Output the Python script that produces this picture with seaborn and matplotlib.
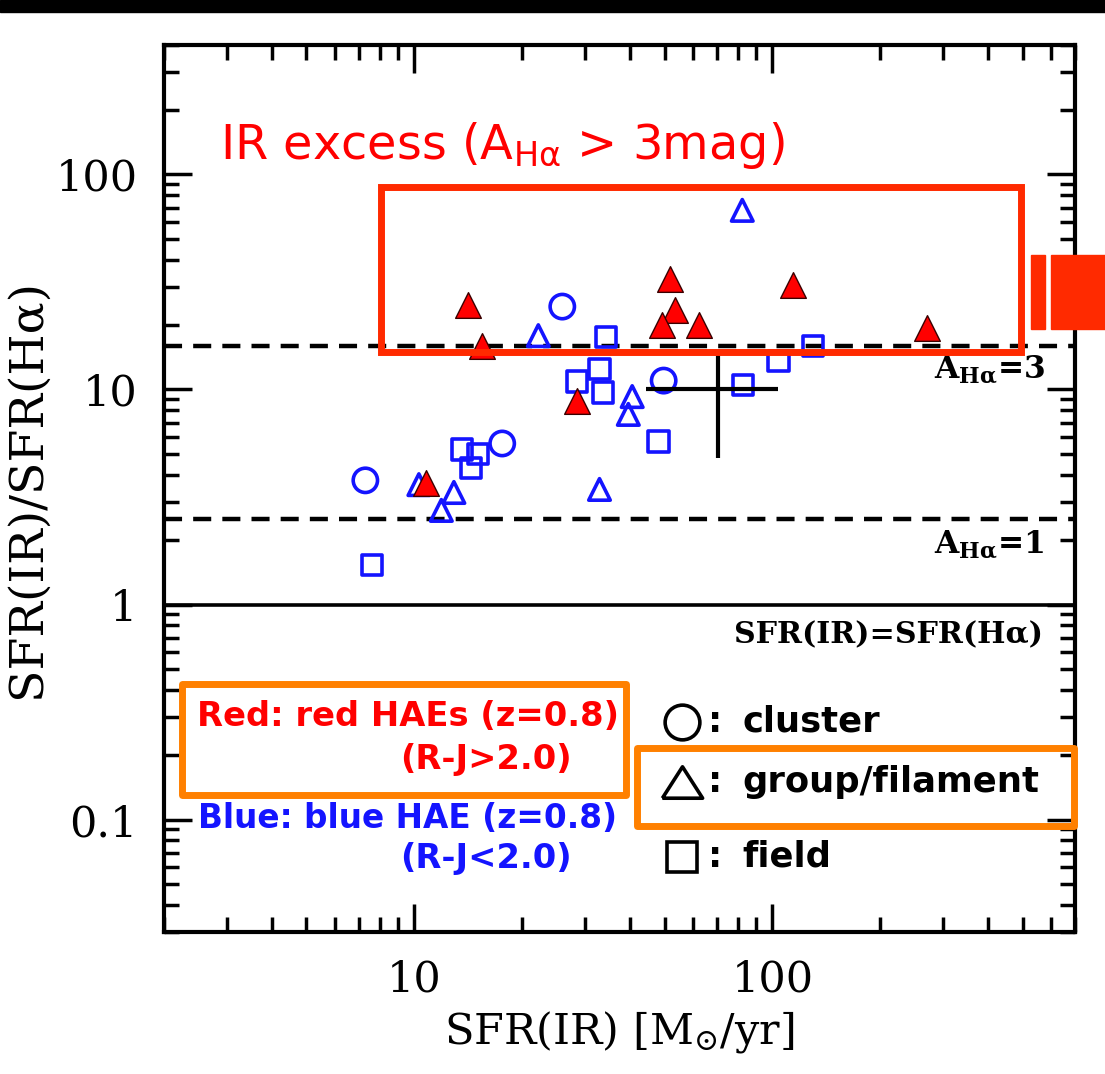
import matplotlib
matplotlib.use("Agg")
import matplotlib.pyplot as plt
import seaborn as sns
import pandas as pd
from matplotlib.patches import Rectangle
from matplotlib.ticker import LogLocator, FuncFormatter, NullFormatter

# ---- data: SFR(IR) [Msun/yr] and SFR(IR)/SFR(Halpha) ----
# red HAEs (R-J > 2.0), all in groups/filaments
red_tri_sfr = [14.1, 15.5, 28.5, 10.8, 51.9, 53.6, 49.3, 62.5, 114.5, 271.0]
red_tri_ratio = [24.6, 16.0, 8.8, 3.69, 32.5, 23.5, 19.9, 20.0, 30.5, 19.4]

# blue HAEs (R-J < 2.0)
blue_cluster_sfr = [25.9, 49.7, 17.6, 7.30]
blue_cluster_ratio = [24.3, 11.0, 5.61, 3.78]

blue_group_sfr = [82.4, 22.2, 40.6, 39.6, 10.3, 12.9, 11.9, 32.9]
blue_group_ratio = [68.1, 17.8, 9.27, 7.66, 3.61, 3.32, 2.74, 3.43]

blue_field_sfr = [34.3, 28.4, 32.9, 33.7, 48.1, 83.0, 104.0, 130.0, 13.6, 15.1, 14.4, 7.64]
blue_field_ratio = [17.5, 10.9, 12.5, 9.68, 5.73, 10.5, 13.6, 15.9, 5.26, 4.99, 4.30, 1.52]

# typical uncertainty (cross)
err_sfr = 70.6
err_ratio = 10.1
err_sfr_lo, err_sfr_hi = 26.1, 33.4
err_ratio_lo, err_ratio_hi = 5.3, 4.3

# extinction reference levels A(Halpha) in mag
a_levels = [1, 3]

x_limits = (2, 700)
y_limits = (0.03, 400)

sns.set_style("ticks")
plt.rcParams.update({
    "font.family": ["DejaVu Serif"],
    "mathtext.fontset": "dejavuserif",
    "lines.scale_dashes": False,
    "axes.linewidth": 3.0,
    "axes.edgecolor": "black",
    "axes.labelcolor": "black",
    "text.color": "black",
    "xtick.color": "black",
    "ytick.color": "black",
})

RED = "#ff0000"
BLUE = "#1414ff"
BOX_RED = "#ff2a00"
ORANGE = "#ff8000"

fig = plt.figure(figsize=(11.05, 10.74), dpi=100)
ax = fig.add_axes([164 / 1105, 142 / 1074, 911 / 1105, 887 / 1074])
ax.set_xscale("log")
ax.set_yscale("log")

# reference lines
ax.axhline(1.0, color="k", lw=2.6, zorder=2)
for a in a_levels:
    ax.axhline(10 ** (0.4 * a), color="k", lw=3.2, dashes=(13, 8), zorder=2)

# blue (open) symbols by environment
blue_sets = [
    (blue_cluster_sfr, blue_cluster_ratio, "o", 17.5),
    (blue_group_sfr, blue_group_ratio, "^", 15.5),
    (blue_field_sfr, blue_field_ratio, "s", 14.5),
]
for xs, ys, mk, ms in blue_sets:
    df = pd.DataFrame({"sfr_ir": xs, "ratio": ys})
    sns.scatterplot(data=df, x="sfr_ir", y="ratio", marker=mk, s=ms ** 2,
                    color=BLUE, facecolor="none", edgecolor=BLUE,
                    linewidth=2.6, ax=ax, zorder=3, legend=False)

# red (filled) triangles
df_red = pd.DataFrame({"sfr_ir": red_tri_sfr, "ratio": red_tri_ratio})
sns.scatterplot(data=df_red, x="sfr_ir", y="ratio", marker="^", s=18.5 ** 2,
                color=RED, edgecolor="#3a0000", linewidth=1.0, ax=ax,
                zorder=4, legend=False)

# typical error cross
ax.errorbar([err_sfr], [err_ratio],
            xerr=[[err_sfr_lo], [err_sfr_hi]],
            yerr=[[err_ratio_lo], [err_ratio_hi]],
            fmt="none", ecolor="k", elinewidth=3.0, capsize=0, zorder=3)

ax.set_xlim(*x_limits)
ax.set_ylim(*y_limits)

fmt = FuncFormatter(lambda v, _: f"{v:g}")
for axis in (ax.xaxis, ax.yaxis):
    axis.set_major_locator(LogLocator(base=10))
    axis.set_major_formatter(fmt)
    axis.set_minor_locator(LogLocator(base=10, subs=range(2, 10)))
    axis.set_minor_formatter(NullFormatter())

ax.tick_params(which="both", direction="in", top=True, right=True, width=2.5)
ax.tick_params(which="major", length=20, labelsize=31, pad=19)
ax.tick_params(which="minor", length=11)

ax.set_xlabel(r"SFR(IR) [M$_{\odot}$/yr]", fontsize=31, labelpad=6)
ax.set_ylabel("SFR(IR)/SFR(H\u03b1)", fontsize=34, labelpad=4)

# line annotations
ax.text(0.845, 0.634, r"A$_{\mathbf{H\alpha}}$=3", transform=ax.transAxes,
        fontsize=22.5, fontweight="bold", va="center", ha="left", zorder=5)
ax.text(0.845, 0.436, r"A$_{\mathbf{H\alpha}}$=1", transform=ax.transAxes,
        fontsize=22.5, fontweight="bold", va="center", ha="left", zorder=5)
ax.text(0.965, 0.335, "SFR(IR)=SFR(H\u03b1)", transform=ax.transAxes,
        fontsize=21.7, fontweight="bold", va="center", ha="right", zorder=5)

# IR-excess region
ax.text(0.0615, 0.887, r"IR excess (A$_{\mathrm{H\alpha}}$ > 3mag)",
        transform=ax.transAxes, fontsize=34.5, color=RED, family="DejaVu Sans",
        math_fontfamily="dejavusans", va="center", ha="left", zorder=6)
ax.add_patch(Rectangle((0.2382, 0.6539), 0.9407 - 0.2382, 0.8399 - 0.6539,
                       transform=ax.transAxes, fill=False, edgecolor=BOX_RED,
                       lw=5, joinstyle="miter", zorder=6, clip_on=False))

# colour key
ax.text(0.0362, 0.2424, "Red: red HAEs (z=0.8)", transform=ax.transAxes,
        fontsize=24.3, color=RED, family="DejaVu Sans", fontweight="bold",
        va="center", ha="left", zorder=6)
ax.text(0.259, 0.194, "(R-J>2.0)", transform=ax.transAxes,
        fontsize=24.3, color=RED, family="DejaVu Sans", fontweight="bold",
        va="center", ha="left", zorder=6)
ax.text(0.0373, 0.1285, "Blue: blue HAE (z=0.8)", transform=ax.transAxes,
        fontsize=23.6, color=BLUE, family="DejaVu Sans", fontweight="bold",
        va="center", ha="left", zorder=6)
ax.text(0.259, 0.0834, "(R-J<2.0)", transform=ax.transAxes,
        fontsize=24.3, color=BLUE, family="DejaVu Sans", fontweight="bold",
        va="center", ha="left", zorder=6)
ax.add_patch(Rectangle((0.0198, 0.1545), 0.5071 - 0.0198, 0.2796 - 0.1545,
                       transform=ax.transAxes, fill=False, edgecolor=ORANGE,
                       lw=5, joinstyle="round", zorder=6, clip_on=False))

# environment key
tri_marker = [(-1, -0.78), (1, -0.78), (0, 0.78), (-1, -0.78)]
env_keys = [
    ("o", 25, 0.2368, "cluster"),
    (tri_marker, 29, 0.1691, "group/filament"),
    ("s", 21, 0.0846, "field"),
]
for mk, ms, yk, label in env_keys:
    ax.plot([0.5685], [yk], marker=mk, ms=ms, mfc="none", mec="k", mew=2.6,
            transform=ax.transAxes, clip_on=False, zorder=6, ls="none")
    ax.text(0.6055, yk, ":", transform=ax.transAxes, fontsize=25.5,
            family="DejaVu Sans", fontweight="bold", va="center", ha="center",
            zorder=6)
    ax.text(0.6345, yk, label, transform=ax.transAxes, fontsize=25.5,
            family="DejaVu Sans", fontweight="bold", va="center", ha="left",
            zorder=6)
ax.add_patch(Rectangle((0.5192, 0.1195), 0.9989 - 0.5192, 0.2074 - 0.1195,
                       transform=ax.transAxes, fill=False, edgecolor=ORANGE,
                       lw=5, joinstyle="round", zorder=6, clip_on=False))

# frame decorations
fig.patches.append(Rectangle((0, 1 - 12 / 1074), 1, 12 / 1074,
                             transform=fig.transFigure, color="k", zorder=5))
fig.patches.append(Rectangle((1031 / 1105, 1 - 329 / 1074), 14 / 1105, 74 / 1074,
                             transform=fig.transFigure, color=BOX_RED, zorder=5))
fig.patches.append(Rectangle((1051 / 1105, 1 - 329 / 1074), 54 / 1105, 74 / 1074,
                             transform=fig.transFigure, color=BOX_RED, zorder=5))

fig.savefig("out.png", dpi=100, facecolor="white")
